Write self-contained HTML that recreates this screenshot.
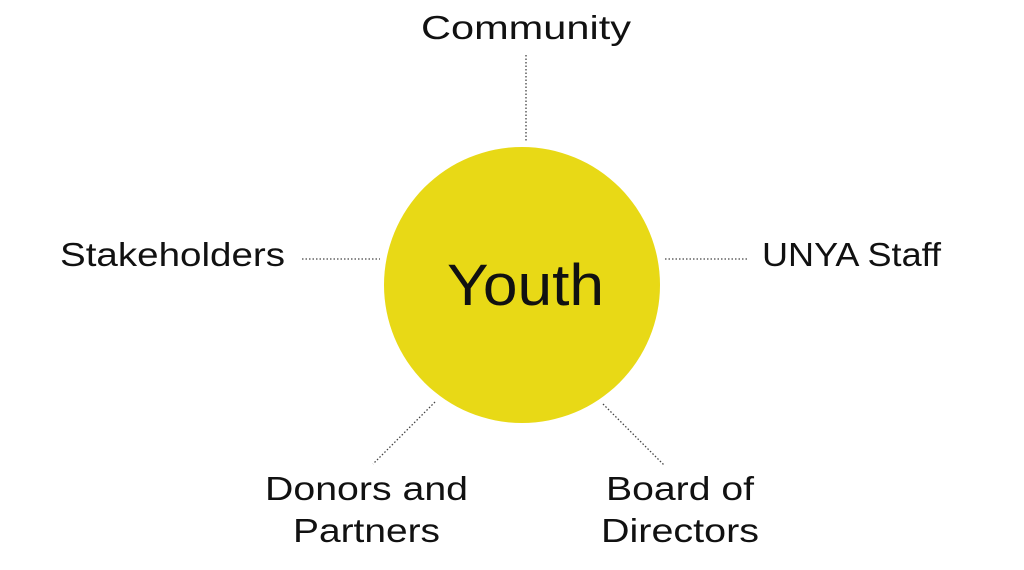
<!DOCTYPE html>
<html><head><style>
body{margin:0;width:1024px;height:565px;background:#fff;overflow:hidden}
svg text{font-family:"Liberation Sans",sans-serif;fill:#111}
</style></head><body>
<svg width="1024" height="565" xmlns="http://www.w3.org/2000/svg">
<circle cx="522" cy="285" r="138" fill="#E8D916"/>
<g stroke="#444" stroke-width="1.3" stroke-dasharray="1.5 2" fill="none">
<line x1="526" y1="55" x2="526" y2="142"/>
<line x1="302" y1="259" x2="380" y2="259"/>
<line x1="665" y1="259" x2="748" y2="259"/>
<line x1="435" y1="402" x2="373" y2="464"/>
<line x1="603" y1="404" x2="664" y2="465"/>
</g>
<g font-size="33" lengthAdjust="spacingAndGlyphs">
<text x="421" y="39" textLength="210" lengthAdjust="spacingAndGlyphs">Community</text>
<text x="60" y="266" textLength="225" lengthAdjust="spacingAndGlyphs">Stakeholders</text>
<text x="762" y="266" textLength="179" lengthAdjust="spacingAndGlyphs">UNYA Staff</text>
<text x="265" y="500" textLength="203" lengthAdjust="spacingAndGlyphs">Donors and</text>
<text x="293" y="542" textLength="147" lengthAdjust="spacingAndGlyphs">Partners</text>
<text x="606" y="500" textLength="148" lengthAdjust="spacingAndGlyphs">Board of</text>
<text x="601" y="542" textLength="158" lengthAdjust="spacingAndGlyphs">Directors</text>
</g>
<text x="447" y="305" font-size="58" textLength="157" lengthAdjust="spacingAndGlyphs">Youth</text>
</svg>
</body></html>
